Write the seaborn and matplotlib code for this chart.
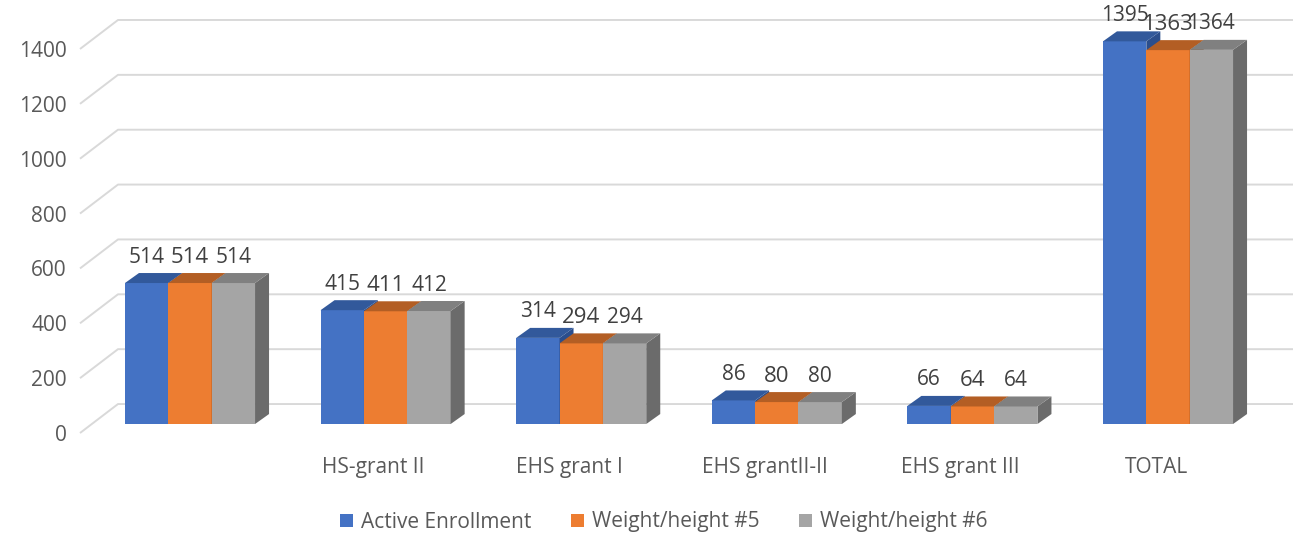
import matplotlib
matplotlib.use("Agg")
import matplotlib.pyplot as plt
import seaborn as sns
import pandas as pd
from matplotlib.patches import Polygon, Patch
from matplotlib.transforms import ScaledTranslation

# ---- data ----
categories = ["", "HS-grant II", "EHS grant I", "EHS grantII-II", "EHS grant III", "TOTAL"]
series = ["Active Enrollment", "Weight/height #5", "Weight/height #6"]
active_enrollment = [514, 415, 314, 86, 66, 1395]
weight_height_5 = [514, 411, 294, 80, 64, 1363]
weight_height_6 = [514, 412, 294, 80, 64, 1364]
yticks = [0, 200, 400, 600, 800, 1000, 1200, 1400]

front_colors = ["#4472C4", "#ED7D31", "#A5A5A5"]
top_colors = ["#32599B", "#B35E24", "#808080"]
side_colors = ["#2B4E8C", "#A0521C", "#6B6B6B"]
label_sizes = [15, 16, 15]

sns.set_style("white")
plt.rcParams["font.family"] = ["Open Sans", "DejaVu Sans"]

DPI = 100
fig = plt.figure(figsize=(12.96, 5.37), dpi=DPI)
ax = fig.add_axes([80 / 1296, 1 - 435 / 537, 1213 / 1296, (435 - 12.55) / 537])

values = [active_enrollment, weight_height_5, weight_height_6]
df = pd.DataFrame({
    "category": categories * len(series),
    "series": [s for s in series for _ in categories],
    "value": [v for vals in values for v in vals],
})

sns.barplot(data=df, x="category", y="value", hue="series", order=categories,
            hue_order=series, palette=front_colors, width=0.665, saturation=1,
            errorbar=None, legend=False, ax=ax, linewidth=0)

ax.set_xlim(-0.5624, 5.639)
ax.set_ylim(-40, 1500)
for s in ax.spines.values():
    s.set_visible(False)
ax.grid(False)
ax.set_xlabel("")
ax.set_ylabel("")

# pixel scale
p0 = ax.transData.transform((0, 0))
p1 = ax.transData.transform((1, 1))
sx = p1[0] - p0[0]
sy = p1[1] - p0[1]

# depth of bars (px)
dxd = 14 / sx
dyd = 10 / sy

# gridlines: front wall -> back wall
xmin, xmax = ax.get_xlim()
for v in yticks:
    yf = v - 9 / sy
    yb = v + 20 / sy
    ax.plot([xmin, xmin + 38 / sx, xmax], [yf, yb, yb], color="#D9D9D9",
            lw=1.4, zorder=1, clip_on=False, solid_capstyle="butt")

# 3D faces
z = 3
for ci in range(len(categories)):
    for si in range(len(series)):
        bar = ax.containers[si][ci]
        x0, w, h = bar.get_x(), bar.get_width(), bar.get_height()
        bar.set_zorder(z)
        bar.set_edgecolor("none")
        side = Polygon([(x0 + w, 0), (x0 + w + dxd, dyd), (x0 + w + dxd, h + dyd), (x0 + w, h)],
                       closed=True, facecolor=side_colors[si], edgecolor="none", zorder=z + 1)
        top = Polygon([(x0, h), (x0 + w, h), (x0 + w + dxd, h + dyd), (x0 + dxd, h + dyd)],
                      closed=True, facecolor=top_colors[si], edgecolor="none", zorder=z + 2)
        ax.add_patch(side)
        ax.add_patch(top)
        ax.annotate(str(values[si][ci]), (x0 + w / 2, h), xytext=(0, 26 * 72 / DPI),
                    textcoords="offset points", ha="center", va="center",
                    fontsize=label_sizes[si], color="#404040", zorder=100,
                    annotation_clip=False)
        z += 3

# y tick labels on the front wall
ax.set_yticks(yticks)
ax.set_yticklabels([str(v) for v in yticks])
ax.tick_params(axis="y", length=0, pad=9.4, labelsize=15, labelcolor="#595959")
for lbl in ax.get_yticklabels():
    lbl.set_transform(lbl.get_transform() + ScaledTranslation(0, -9 / DPI, fig.dpi_scale_trans))

# x tick labels
ax.set_xticks(range(len(categories)))
ax.set_xticklabels(categories)
ax.tick_params(axis="x", length=0, pad=15.8, labelsize=15, labelcolor="#595959")
for lbl in ax.get_xticklabels():
    lbl.set_transform(lbl.get_transform() + ScaledTranslation(-12 / DPI, 0, fig.dpi_scale_trans))

handles = [Patch(facecolor=c, edgecolor="none", label=s) for c, s in zip(front_colors, series)]
fig.legend(handles=handles, loc="center", bbox_to_anchor=(664 / 1296, 1 - 522 / 537),
           ncol=3, frameon=False, fontsize=15, handlelength=0.6, handleheight=0.6,
           handletextpad=0.4, columnspacing=1.9, labelcolor="#595959")

fig.savefig("out.png", dpi=DPI)
